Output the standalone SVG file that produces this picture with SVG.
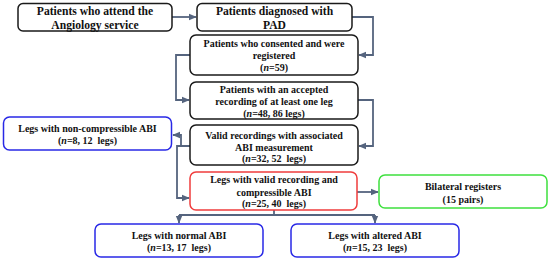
<svg xmlns="http://www.w3.org/2000/svg" width="550" height="260" viewBox="0 0 550 260">
<defs>
<marker id="ah" viewBox="0 0 10 10" refX="9" refY="5" markerWidth="4.6" markerHeight="4.6" orient="auto" markerUnits="strokeWidth">
<path d="M0,1 L10,5 L0,9 Z" fill="#55647e"/>
</marker>
</defs>
<style>
.box{fill:#fff;stroke-width:1.5}
.k{stroke:#1a1a1a}
.b{stroke:#2828e6}
.r{stroke:#f03c3c}
.g{stroke:#3ee03e}
.t{font-family:"Liberation Serif","Times New Roman",serif;font-weight:bold;fill:#111;text-anchor:middle;white-space:pre}
.big{font-size:11.6px}
.sm{font-size:10px}
.c{fill:none;stroke:#55647e;stroke-width:1.8}
</style>
<rect width="550" height="260" fill="#fff"/>
<g id="connectors">
<path class="c" d="M172,17 H196" marker-end="url(#ah)"/>
<path class="c" d="M352,17 H373 V55 H359" marker-end="url(#ah)"/>
<path class="c" d="M190,55 H176 V100 H189" marker-end="url(#ah)"/>
<path class="c" d="M358,100 H373 V146 H359" marker-end="url(#ah)"/>
<path class="c" d="M190,146 H177 V198 H189" marker-end="url(#ah)"/>
<path class="c" d="M181,146 V135 H173" marker-end="url(#ah)"/>
<path class="c" d="M357,192 H378" marker-end="url(#ah)"/>
<path class="c" d="M274,210 V215"/>
<path class="c" d="M179,215 H375"/>
<path class="c" d="M179,215 V223" marker-end="url(#ah)"/>
<path class="c" d="M375,215 V223" marker-end="url(#ah)"/>
</g>
<g id="n1">
<rect class="box k" x="18" y="3.5" width="154" height="27.5" rx="5"/>
<text class="t big" x="95" y="15">Patients who attend the</text>
<text class="t big" x="95" y="28.5">Angiology service</text>
</g>
<g id="n2">
<rect class="box k" x="197" y="3.5" width="155" height="27.5" rx="5"/>
<text class="t big" x="274.5" y="15">Patients diagnosed with</text>
<text class="t big" x="274.5" y="28.5">PAD</text>
</g>
<g id="n3">
<rect class="box k" x="190" y="35" width="168" height="40" rx="6"/>
<text class="t sm" x="274" y="46.5">Patients who consented and were</text>
<text class="t sm" x="274" y="59">registered</text>
<text class="t sm" x="274" y="71">(<tspan font-style="italic">n</tspan>=59)</text>
</g>
<g id="n4">
<rect class="box k" x="190" y="82" width="168" height="37" rx="6"/>
<text class="t sm" x="274" y="92.5">Patients with an accepted</text>
<text class="t sm" x="274" y="105">recording of at least one leg</text>
<text class="t sm" x="274" y="117">(<tspan font-style="italic">n</tspan>=48, 86 legs)</text>
</g>
<g id="n5">
<rect class="box k" x="190" y="125" width="168" height="40" rx="6"/>
<text class="t sm" x="274" y="138.5">Valid recordings with associated</text>
<text class="t sm" x="274" y="150.5">ABI measurement</text>
<text class="t sm" x="274" y="162">(<tspan font-style="italic">n</tspan>=32, 52  legs)</text>
</g>
<g id="n6">
<rect class="box b" x="3.5" y="117" width="168" height="33" rx="6"/>
<text class="t sm" x="87.5" y="131.5">Legs with non-compressible ABI</text>
<text class="t sm" x="87.5" y="143.5">(<tspan font-style="italic">n</tspan>=8, 12  legs)</text>
</g>
<g id="n7">
<rect class="box r" x="190" y="172" width="167" height="38" rx="6"/>
<text class="t sm" x="274" y="182.5">Legs with valid recording and</text>
<text class="t sm" x="274" y="195.5">compressible ABI</text>
<text class="t sm" x="274" y="207">(<tspan font-style="italic">n</tspan>=25, 40  legs)</text>
</g>
<g id="n8">
<rect class="box g" x="379" y="175" width="168" height="33" rx="6"/>
<text class="t sm" x="463" y="189.5">Bilateral registers</text>
<text class="t sm" x="463" y="202.5">(15 pairs)</text>
</g>
<g id="n9">
<rect class="box b" x="95" y="224" width="168" height="33" rx="6"/>
<text class="t sm" x="179" y="238.5">Legs with normal ABI</text>
<text class="t sm" x="179" y="250.5">(<tspan font-style="italic">n</tspan>=13, 17  legs)</text>
</g>
<g id="n10">
<rect class="box b" x="291" y="224" width="168" height="33" rx="6"/>
<text class="t sm" x="375" y="238.5">Legs with altered ABI</text>
<text class="t sm" x="375" y="250.5">(<tspan font-style="italic">n</tspan>=15, 23  legs)</text>
</g>
</svg>
